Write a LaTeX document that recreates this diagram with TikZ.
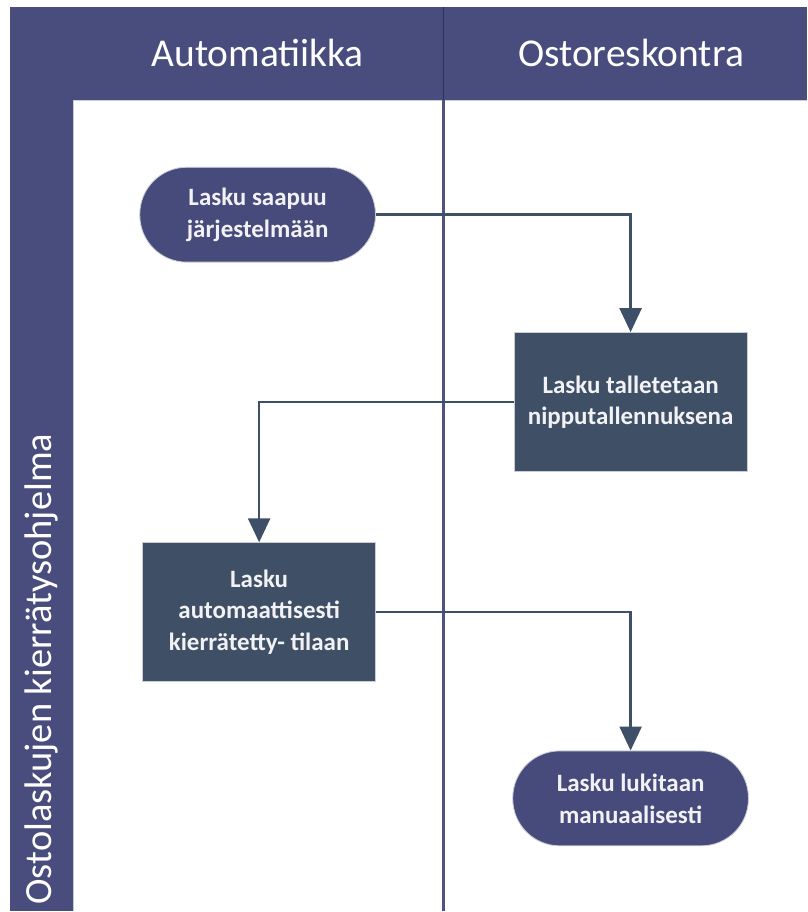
\documentclass[tikz,border=0pt]{standalone}
\usepackage{fontspec}
\setmainfont{Carlito}
\usetikzlibrary{arrows.meta}
\definecolor{bandblue}{HTML}{484D7D}
\definecolor{termblue}{HTML}{474B7C}
\definecolor{procslate}{HTML}{3F4F66}
\definecolor{connslate}{HTML}{3E5068}
\definecolor{lanerule}{HTML}{4E5384}
\definecolor{edgegray}{HTML}{C9CDD6}
\definecolor{textwhite}{HTML}{F2F2F4}
\tikzset{
  terminal/.style={fill=termblue, draw=edgegray, line width=0.8pt,
    rounded corners=47pt, minimum width=236pt, minimum height=95pt,
    text=textwhite, align=center, font=\fontsize{25}{32}\selectfont\bfseries, inner sep=0pt},
  process/.style={fill=procslate, draw=edgegray, line width=0.8pt,
    minimum width=233pt, minimum height=139pt,
    text=textwhite, align=center, font=\fontsize{25}{31.5}\selectfont\bfseries, inner sep=0pt},
  header/.style={text=white, font=\fontsize{39.5}{42}\selectfont, inner sep=0pt},
  conn/.style={draw=connslate, line width=2.4pt,
    -{Triangle[width=22pt,length=24pt]}}
}
\begin{document}
\begin{tikzpicture}[x=1pt,y=-1pt]
  % canvas
  \fill[white] (0,0) rectangle (808,912);
  % header band and pool label strip
  \fill[bandblue] (10,7) rectangle (808,100);
  \fill[bandblue] (10,7) rectangle (73,912);
  \draw[edgegray, line width=1pt] (73,101) -- (808,101);
  \draw[edgegray, line width=1pt] (74,101) -- (74,912);
  % lane separators
  \draw[black!35!bandblue, line width=1.5pt] (444,7) -- (444,100);
  \draw[lanerule, line width=2.6pt] (444,100) -- (444,912);
  % lane titles
  \node[header] (laneA) at (258,53) {Automatiikka};
  \node[header] (laneB) at (632,53) {Ostoreskontra};
  \node[header, rotate=90, anchor=west, font=\fontsize{38.5}{40}\selectfont] (pool) at (42,906) {Ostolaskujen kierrätysohjelma};
  % flow steps
  \node[terminal] (start) at (258,215) {Lasku saapuu\\järjestelmään};
  \node[process] (save) at (631.5,402.5) {Lasku talletetaan\\nipputallennuksena};
  \node[process] (recyc) at (259.5,613) {Lasku\\automaattisesti\\kierrätetty- tilaan};
  \node[terminal] (lock) at (631.5,799.5) {Lasku lukitaan\\manuaalisesti};
  % connectors
  \draw[conn] (start.east) -| (save.north);
  \draw[conn] (save.west) -| (recyc.north);
  \draw[conn] (recyc.east) -| (lock.north);
\end{tikzpicture}
\end{document}
